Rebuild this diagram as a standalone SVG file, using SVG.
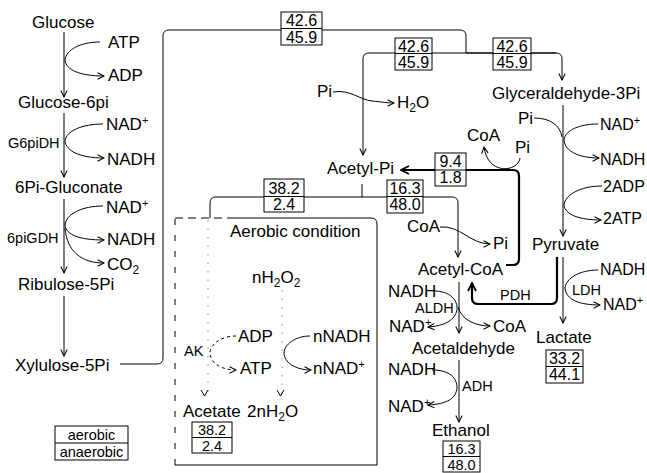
<svg xmlns="http://www.w3.org/2000/svg" width="647" height="473" viewBox="0 0 647 473">
<style>
text{font-family:"Liberation Sans",Arial,sans-serif;font-size:17px;fill:#000}
.s{font-size:14.5px}
.r{font-size:16px}
.n{font-size:16px;text-anchor:middle}
.m{font-size:14.5px;text-anchor:middle}
.g{font-size:14.5px;text-anchor:middle}
.l{fill:none;stroke:#000;stroke-width:1}
.k{stroke-width:2.2}
.d{stroke-dasharray:3,3}
.f{stroke:#888;stroke-dasharray:1.5,7}
.box{fill:#fff;stroke:#000;stroke-width:1}
.sup{font-size:11px}
.sub{font-size:12px}
</style>
<defs>
<marker id="ar" viewBox="0 0 10 10" refX="9" refY="5" markerWidth="8" markerHeight="8" markerUnits="userSpaceOnUse" orient="auto"><path d="M1,1 L9,5 L1,9" fill="none" stroke="#000" stroke-width="1.3"/></marker>
<marker id="ak" viewBox="0 0 10 10" refX="9" refY="5" markerWidth="10" markerHeight="10" markerUnits="userSpaceOnUse" orient="auto"><path d="M1,1 L9,5 L1,9" fill="none" stroke="#000" stroke-width="1.8"/></marker>
</defs>
<rect width="647" height="473" fill="#fff"/>
<g id="connectors">
<path class="l" d="M64,32 L64,97" marker-end="url(#ar)"/>
<path class="l" d="M100,42 C80,42 66,50 65,60 C66,70 80,76 104,76" marker-end="url(#ar)"/>
<path class="l" d="M64,113 L64,177" marker-end="url(#ar)"/>
<path class="l" d="M103,124 C82,124 66,131 65,141 C66,151 80,158 104,158" marker-end="url(#ar)"/>
<path class="l" d="M64,199 L64,273" marker-end="url(#ar)"/>
<path class="l" d="M103,206 C82,206 66,214 65,225 C66,235 80,240 104,240" marker-end="url(#ar)"/>
<path class="l" d="M65,228 C67,252 82,263 104,263" marker-end="url(#ar)"/>
<path class="l" d="M64,296 L64,356" marker-end="url(#ar)"/>
<path class="l" d="M120,364 L157,364 Q163,364 163,358 L163,36 Q163,30 169,30 L460,30 Q466,30 466,36 L466,53"/>
<path class="l" d="M556,53 L369,53 Q363,53 363,59 L363,155" marker-end="url(#ar)"/>
<path class="l" d="M466,53 L556,53 Q562,53 562,59 L562,80" marker-end="url(#ar)"/>
<path class="l" d="M333,92 C350,89 360,100 372,101 C382,102 388,103 394,103" marker-end="url(#ar)"/>
<path class="l" d="M362,184 L362,197"/>
<path class="l" d="M210,218 L210,203 Q210,197 216,197 L452,197 Q458,197 458,203 L458,257" marker-end="url(#ar)"/>
<path class="l k" d="M506,265 L513,265 Q519,265 519,259 L519,176 Q519,170 513,170 L401,170" marker-end="url(#ak)"/>
<path class="l" d="M520,158 C518,172 488,176 484,147" marker-end="url(#ar)"/>
<path class="l" d="M440,227 C460,225 470,244 490,244" marker-end="url(#ar)"/>
<path class="l" d="M563,105 L563,236" marker-end="url(#ar)"/>
<path class="l" d="M534,118 C550,118 560,125 562,137"/>
<path class="l" d="M598,124 C580,124 565,130 564,140 C565,152 580,158 599,158" marker-end="url(#ar)"/>
<path class="l" d="M602,186 C580,186 565,195 564,205 C565,215 580,220 601,220" marker-end="url(#ar)"/>
<path class="l k" d="M557,257 L557,298 Q557,304 551,304 L478,304 Q472,304 472,298 L472,283" marker-end="url(#ak)"/>
<path class="l" d="M563,257 L563,323" marker-end="url(#ar)"/>
<path class="l" d="M598,270 C580,270 566,278 565,288 C566,300 580,305 600,305" marker-end="url(#ar)"/>
<path class="l" d="M459,282 L459,333" marker-end="url(#ar)"/>
<path class="l" d="M434,291 C450,291 458,300 457,310 C455,320 445,326 428,327" marker-end="url(#ar)"/>
<path class="l" d="M458,307 C462,320 475,326 490,326" marker-end="url(#ar)"/>
<path class="l" d="M459,360 L459,422" marker-end="url(#ar)"/>
<path class="l" d="M432,370 C450,370 457,378 457,388 C456,398 448,404 428,405" marker-end="url(#ar)"/>
<path class="l f" d="M208,220 L208,394"/>
<path class="l f" d="M282,290 L282,394"/>
<path class="l" d="M201,390 L204.5,396 L208,390"/>
<path class="l" d="M277,390 L280.5,396 L284,390"/>
<path class="l d" d="M236,336 C220,336 210,345 210,353 C210,362 220,370 236,370" marker-end="url(#ar)"/>
<path class="l" d="M310,336 C295,336 284,345 284,353 C284,362 295,370 311,370" marker-end="url(#ar)"/>
</g>
<g id="aerobic-box">
<path class="l" d="M175,465 L175,218" stroke-dasharray="6,10"/>
<path class="l" d="M175,218 L230,218" stroke-dasharray="8,5"/>
<path class="l" d="M230,218 L371,218 Q377,218 377,224 L377,465 L175,465"/>
<text x="230" y="237">Aerobic condition</text>
</g>
<g id="glucose"><text x="32" y="28">Glucose</text></g>
<g id="atp1"><text x="108" y="48">ATP</text></g>
<g id="adp1"><text x="108" y="81">ADP</text></g>
<g id="glucose6pi"><text x="18" y="108">Glucose-6pi</text></g>
<g id="g6pidh"><text class="s" x="8" y="148">G6piDH</text></g>
<g id="nad1"><text x="106" y="130">NAD<tspan class="sup" dy="-6">+</tspan></text></g>
<g id="nadh1"><text x="107" y="165">NADH</text></g>
<g id="gluconate"><text x="15" y="193">6Pi-Gluconate</text></g>
<g id="nad2"><text x="106" y="213">NAD<tspan class="sup" dy="-6">+</tspan></text></g>
<g id="pgdh"><text class="s" x="7" y="243">6piGDH</text></g>
<g id="nadh2"><text x="107" y="245">NADH</text></g>
<g id="co2"><text x="107" y="270">CO<tspan class="sub" dy="4">2</tspan></text></g>
<g id="ribulose"><text x="18" y="290">Ribulose-5Pi</text></g>
<g id="xylulose"><text x="15" y="371">Xylulose-5Pi</text></g>
<g id="box-top"><rect class="box" x="281" y="12" width="41" height="33"/><path class="l" d="M281,28.5 L322,28.5"/><text class="n" x="301.5" y="26">42.6</text><text class="n" x="301.5" y="42.5">45.9</text></g>
<g id="box-ap"><rect class="box" x="395" y="38" width="37" height="32"/><path class="l" d="M395,53.5 L432,53.5"/><text class="n" x="413.5" y="51.5">42.6</text><text class="n" x="413.5" y="67.5">45.9</text></g>
<g id="box-g3p"><rect class="box" x="493" y="38" width="38" height="32"/><path class="l" d="M493,53.5 L531,53.5"/><text class="n" x="512" y="51.5">42.6</text><text class="n" x="512" y="67.5">45.9</text></g>
<g id="pi1"><text x="317" y="97">Pi</text></g>
<g id="h2o1"><text x="397" y="108">H<tspan class="sub" dy="4">2</tspan><tspan dy="-4">O</tspan></text></g>
<g id="glyceraldehyde"><text x="492" y="99">Glyceraldehyde-3Pi</text></g>
<g id="pi-g"><text x="518" y="124">Pi</text></g>
<g id="nad-g"><text class="r" x="600" y="130">NAD<tspan class="sup" dy="-6">+</tspan></text></g>
<g id="nadh-g"><text class="r" x="600" y="165">NADH</text></g>
<g id="adp2"><text class="r" x="603" y="192">2ADP</text></g>
<g id="atp2"><text class="r" x="603" y="224">2ATP</text></g>
<g id="coa1"><text x="467" y="141">CoA</text></g>
<g id="pi2"><text x="515" y="153">Pi</text></g>
<g id="acetylpi"><text x="327" y="174">Acetyl-Pi</text></g>
<g id="box-94"><rect class="box" x="435" y="153" width="31" height="33"/><path class="l" d="M435,170 L466,170"/><text class="n" x="450.5" y="167">9.4</text><text class="n" x="450.5" y="183">1.8</text></g>
<g id="box-382a"><rect class="box" x="264" y="179" width="40" height="33"/><path class="l" d="M264,196.5 L304,196.5"/><text class="n" x="284" y="194">38.2</text><text class="n" x="284" y="210">2.4</text></g>
<g id="box-163a"><rect class="box" x="387" y="180" width="36" height="33"/><path class="l" d="M387,196.5 L423,196.5"/><text class="n" x="405" y="194">16.3</text><text class="n" x="405" y="210">48.0</text></g>
<g id="coa2"><text x="407" y="232">CoA</text></g>
<g id="pi3"><text x="493" y="249">Pi</text></g>
<g id="acetylcoa"><text x="418" y="275">Acetyl-CoA</text></g>
<g id="pyruvate"><text x="532" y="250">Pyruvate</text></g>
<g id="pdh"><text class="s" x="500" y="300">PDH</text></g>
<g id="ldh"><text class="s" x="572" y="295">LDH</text></g>
<g id="nadh-l"><text class="r" x="600" y="275">NADH</text></g>
<g id="nad-l"><text class="r" x="603" y="310">NAD<tspan class="sup" dy="-6">+</tspan></text></g>
<g id="lactate"><text x="536" y="343">Lactate</text></g>
<g id="box-lac"><rect class="box" x="546" y="350" width="37" height="33"/><path class="l" d="M546,366.5 L583,366.5"/><text class="n" x="564.5" y="364">33.2</text><text class="n" x="564.5" y="380">44.1</text></g>
<g id="nadh-a"><text x="388" y="297">NADH</text></g>
<g id="aldh"><text class="s" x="415" y="313">ALDH</text></g>
<g id="nad-a"><text x="389" y="332">NAD<tspan class="sup" dy="-6">+</tspan></text></g>
<g id="coa3"><text x="493" y="332">CoA</text></g>
<g id="acetaldehyde"><text x="412" y="354">Acetaldehyde</text></g>
<g id="nadh-e"><text x="388" y="375">NADH</text></g>
<g id="adh"><text class="s" x="462" y="391">ADH</text></g>
<g id="nad-e"><text x="388" y="412">NAD<tspan class="sup" dy="-6">+</tspan></text></g>
<g id="ethanol"><text x="432" y="436">Ethanol</text></g>
<g id="box-eth"><rect class="box" x="443" y="441" width="37" height="31"/><path class="l" d="M443,456.5 L480,456.5"/><text class="m" x="461.5" y="454">16.3</text><text class="m" x="461.5" y="469.5">48.0</text></g>
<g id="nh2o2"><text x="252" y="283">nH<tspan class="sub" dy="4">2</tspan><tspan dy="-4">O</tspan><tspan class="sub" dy="4">2</tspan></text></g>
<g id="ak"><text class="s" x="184" y="356">AK</text></g>
<g id="adp3"><text x="238" y="342">ADP</text></g>
<g id="atp3"><text x="240" y="374">ATP</text></g>
<g id="nnadh"><text x="313" y="342">nNADH</text></g>
<g id="nnad"><text x="313" y="374">nNAD<tspan class="sup" dy="-6">+</tspan></text></g>
<g id="acetate"><text x="183" y="417">Acetate</text></g>
<g id="h2o2n"><text x="247" y="417">2nH<tspan class="sub" dy="4">2</tspan><tspan dy="-4">O</tspan></text></g>
<g id="box-ace"><rect class="box" x="192" y="422" width="40" height="31"/><path class="l" d="M192,437.5 L232,437.5"/><text class="m" x="212" y="435">38.2</text><text class="m" x="212" y="450.5">2.4</text></g>
<g id="legend"><rect class="box" x="55" y="426" width="73" height="34"/><path class="l" d="M55,443 L128,443"/><text class="g" x="91.5" y="440">aerobic</text><text class="g" x="91.5" y="457">anaerobic</text></g>
</svg>
